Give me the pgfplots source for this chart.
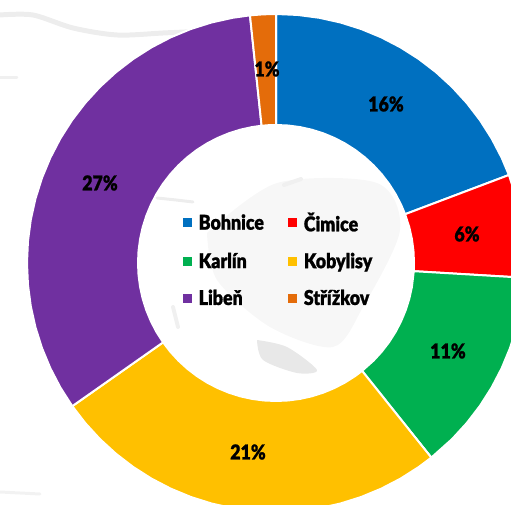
\documentclass[border=0pt]{standalone}
\usepackage{pgfplots}
\pgfplotsset{compat=1.18}
\usepackage{fontspec}
\setmainfont[FakeStretch=0.87,FakeBold=1]{Lato Black}
\definecolor{cBoh}{RGB}{0,112,192}
\definecolor{cCim}{RGB}{255,0,0}
\definecolor{cKar}{RGB}{0,176,80}
\definecolor{cKob}{RGB}{255,192,0}
\definecolor{cLib}{RGB}{112,48,160}
\definecolor{cStr}{RGB}{228,108,10}
\pgfplotsset{
  wedge/.style={fill=#1, draw=white, line width=2pt, line join=round, data cs=polar},
  backdrop/.style={forget plot, no markers, smooth, line cap=round, line join=round},
}
\begin{document}
\begin{tikzpicture}[x=1bp,y=1bp]
\begin{axis}[
  hide axis,
  scale only axis,
  width=511bp,
  height=505bp,
  xmin=-276, xmax=235,
  ymin=-242, ymax=263,
  clip mode=individual,
  legend columns=2,
  legend cell align=left,
  legend style={at={(0.545,0.486)}, anchor=center, draw=none, fill=none,
    font=\fontsize{20.5}{20.5}\selectfont,
    /tikz/every even column/.append style={column sep=22bp},
    row sep=16bp},
  legend image code/.code={
    \fill[#1, draw=none] (0bp,-4.5bp) rectangle (9bp,4.5bp);
    \path (13bp,0bp);
  },
]
% faint map behind the ring
\addplot[backdrop, draw=none, fill=black!3] coordinates {
  (-69,30) (1,80) (101,80) (124,33) (87,-44) (57,-84) (-6,-64) (-59,-17) (-69,30)};
\addplot[backdrop, draw=none, fill=black!9] coordinates {
  (-19,-77) (11,-84) (41,-107) (21,-110) (-13,-97) (-19,-77)};
\addplot[backdrop, draw=black!7, line width=5pt] coordinates {
  (-276,248) (-243,248) (-203,235) (-159,228) (-113,230) (-60,233) (-20,240)};
\addplot[backdrop, draw=black!7, line width=3pt] coordinates {(-119,65) (-100,63) (-83,61)};
\addplot[backdrop, draw=black!6, line width=4pt] coordinates {(-103,-44) (-98,-64)};
\addplot[backdrop, draw=black!6, line width=4pt] coordinates {(8,78) (25,84)};
\addplot[backdrop, draw=black!6, line width=3pt] coordinates {(-276,185) (-259,185)};
\addplot[backdrop, draw=black!5, line width=3pt] coordinates {(-276,-229) (-236,-231)};
% ring segments: (angle, radius), outer arc then inner arc
\addplot[wedge=cBoh] coordinates {
  (90,249) (85,249) (80,249) (75,249) (70,249) (65,249) (60,249) (55,249) (50,249)
  (45,249) (40,249) (35,249) (30,249) (25,249) (20.7,249)
  (20.7,138) (25,138) (30,138) (35,138) (40,138) (45,138) (50,138) (55,138) (60,138)
  (65,138) (70,138) (75,138) (80,138) (85,138) (90,138) (90,249)};
\addplot[wedge=cCim] coordinates {
  (20.7,249) (15,249) (10,249) (5,249) (0,249) (-3.4,249)
  (-3.4,138) (0,138) (5,138) (10,138) (15,138) (20.7,138) (20.7,249)};
\addplot[wedge=cKar] coordinates {
  (-3.4,249) (-10,249) (-15,249) (-20,249) (-25,249) (-30,249) (-35,249) (-40,249) (-45,249) (-51.4,249)
  (-51.4,138) (-45,138) (-40,138) (-35,138) (-30,138) (-25,138) (-20,138) (-15,138) (-10,138) (-3.4,138) (-3.4,249)};
\addplot[wedge=cKob] coordinates {
  (-51.4,249) (-55,249) (-60,249) (-65,249) (-70,249) (-75,249) (-80,249) (-85,249) (-90,249)
  (-95,249) (-100,249) (-105,249) (-110,249) (-115,249) (-120,249) (-125,249) (-130,249)
  (-135,249) (-140,249) (-144.9,249)
  (-144.9,138) (-140,138) (-135,138) (-130,138) (-125,138) (-120,138) (-115,138) (-110,138)
  (-105,138) (-100,138) (-95,138) (-90,138) (-85,138) (-80,138) (-75,138) (-70,138) (-65,138)
  (-60,138) (-55,138) (-51.4,138) (-51.4,249)};
\addplot[wedge=cLib] coordinates {
  (-144.9,249) (-150,249) (-155,249) (-160,249) (-165,249) (-170,249) (-175,249) (-180,249)
  (-185,249) (-190,249) (-195,249) (-200,249) (-205,249) (-210,249) (-215,249) (-220,249)
  (-225,249) (-230,249) (-235,249) (-240,249) (-245,249) (-250,249) (-255,249) (-260,249) (-264,249)
  (-264,138) (-260,138) (-255,138) (-250,138) (-245,138) (-240,138) (-235,138) (-230,138)
  (-225,138) (-220,138) (-215,138) (-210,138) (-205,138) (-200,138) (-195,138) (-190,138)
  (-185,138) (-180,138) (-175,138) (-170,138) (-165,138) (-160,138) (-155,138) (-150,138)
  (-144.9,138) (-144.9,249)};
\addplot[wedge=cStr] coordinates {
  (-264,249) (-267,249) (-270,249) (-270,138) (-267,138) (-264,138) (-264,249)};
\legend{Bohnice, Čimice, Karlín, Kobylisy, Libeň, Střížkov}
% percentage labels
\addplot[forget plot, draw=none, no markers, point meta=explicit symbolic,
  nodes near coords,
  every node near coord/.append style={anchor=center, text=black,
    font=\fontsize{20.5}{20.5}\selectfont}]
  coordinates {
  (110,159)[16\%] (191,29)[6\%] (172,-88)[11\%]
  (-28,-189)[21\%] (-176,80)[27\%] (-9,194)[1\%]};
\end{axis}
\pgfresetboundingbox
\path[use as bounding box] (0,0) rectangle (511bp,505bp);
\end{tikzpicture}
\end{document}
